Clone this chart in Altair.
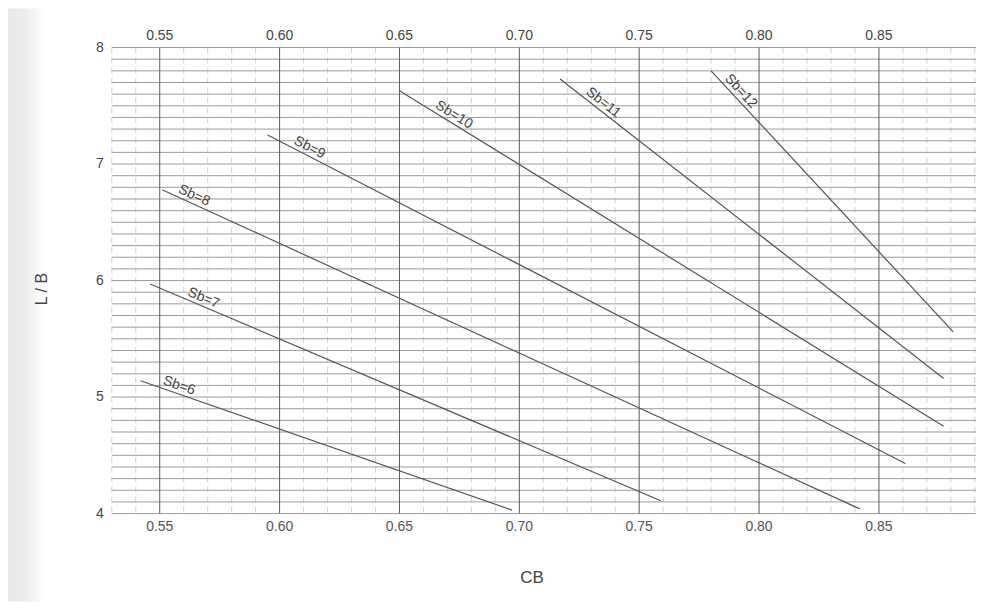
import math
import altair as alt
import pandas as pd
import numpy as np

# ---- data ----
sb = [6, 7, 8, 9, 10, 11, 12]
cb_start = [0.542, 0.546, 0.551, 0.595, 0.650, 0.717, 0.780]
lb_start = [5.14, 5.97, 6.78, 7.25, 7.63, 7.73, 7.80]
cb_end = [0.697, 0.759, 0.842, 0.861, 0.877, 0.877, 0.881]
lb_end = [4.03, 4.11, 4.04, 4.43, 4.75, 5.16, 5.56]
label_cb = [0.557, 0.567, 0.563, 0.611, 0.671, 0.733, 0.790]

x_ticks = [0.55, 0.60, 0.65, 0.70, 0.75, 0.80, 0.85]
y_ticks = [4, 5, 6, 7, 8]
x_minor = [0.53, 0.54, 0.56, 0.57, 0.58, 0.59, 0.61, 0.62, 0.63, 0.64, 0.66,
           0.67, 0.68, 0.69, 0.71, 0.72, 0.73, 0.74, 0.76, 0.77, 0.78, 0.79,
           0.81, 0.82, 0.83, 0.84, 0.86, 0.87, 0.88, 0.89]
y_grid = [round(v, 1) for v in np.arange(4.0, 8.0001, 0.1)]

x_title = "CB"
y_title = "L / B"

X_DOM = [0.530, 0.8905]
Y_DOM = [4, 8]
W, H = 866, 467

FONT = "Liberation Sans Narrow, Arial Narrow, Liberation Sans, sans-serif"
FONT2 = "Liberation Sans, Arial, sans-serif"

# ---- tables ----
lines = pd.DataFrame({"sb": sb, "cb0": cb_start, "lb0": lb_start,
                      "cb1": cb_end, "lb1": lb_end})
kx = W / (X_DOM[1] - X_DOM[0])
ky = H / (Y_DOM[1] - Y_DOM[0])
slope = (lines.lb1 - lines.lb0) / (lines.cb1 - lines.cb0)
lab = pd.DataFrame({
    "text": [f"Sb={s}" for s in sb],
    "cb": label_cb,
    "lb": [l0 + s * (c - c0) for l0, s, c, c0 in zip(lines.lb0, slope, label_cb, lines.cb0)],
    "angle": [math.degrees(math.atan(-s * ky / kx)) for s in slope],
})
xt = pd.DataFrame({"x": x_ticks})
yt = pd.DataFrame({"y": y_ticks})
one = pd.DataFrame({"a": [0]})

xs = alt.Scale(domain=X_DOM, nice=False, zero=False)
ys = alt.Scale(domain=Y_DOM, nice=False, zero=False)

shade = alt.Chart(one).mark_rect(
    color=alt.Gradient(gradient="linear", x1=0, x2=1, y1=0, y2=0,
                       stops=[alt.GradientStop(offset=0, color="#e9e9e9"),
                              alt.GradientStop(offset=0.45, color="#ececec"),
                              alt.GradientStop(offset=1, color="#ffffff")])
).encode(x=alt.value(-104), x2=alt.value(-66), y=alt.value(-39), y2=alt.value(H + 88))

minor = alt.Chart(pd.DataFrame({"x": x_minor})).mark_rule(
    color="#d2d2d2", strokeWidth=1, strokeDash=[6, 4]
).encode(x=alt.X("x:Q", scale=xs, axis=None))

hgrid = alt.Chart(pd.DataFrame({"y": y_grid})).mark_rule(
    color="#9c9c9c", strokeWidth=1
).encode(y=alt.Y("y:Q", scale=ys, axis=None))

major = alt.Chart(xt).mark_rule(color="#5a5a5a", strokeWidth=1).encode(
    x=alt.X("x:Q", scale=xs, axis=None))

curves = alt.Chart(lines).mark_rule(color="#555", strokeWidth=1.2).encode(
    x=alt.X("cb0:Q", scale=xs, axis=None), x2="cb1:Q",
    y=alt.Y("lb0:Q", scale=ys, axis=None), y2="lb1:Q")

labels = alt.Chart(lab).mark_text(
    font=FONT2, fontSize=14, color="#444", align="center", baseline="alphabetic", dy=-4
).encode(x=alt.X("cb:Q", scale=xs, axis=None), y=alt.Y("lb:Q", scale=ys, axis=None),
         text="text:N", angle=alt.Angle("angle:Q", scale=None))

top = alt.Chart(xt).mark_text(
    font=FONT, fontSize=14, color="#444", baseline="middle"
).encode(x=alt.X("x:Q", scale=xs, axis=None), y=alt.value(-12),
         text=alt.Text("x:Q", format=".2f"))

bottom = alt.Chart(xt).mark_text(
    font=FONT, fontSize=14, color="#555", baseline="middle"
).encode(x=alt.X("x:Q", scale=xs, axis=None), y=alt.value(H + 13),
         text=alt.Text("x:Q", format=".2f"))

left = alt.Chart(yt).mark_text(
    font=FONT, fontSize=14, color="#444", baseline="middle", align="right"
).encode(y=alt.Y("y:Q", scale=ys, axis=None), x=alt.value(-8),
         text=alt.Text("y:Q", format="d"))

xtitle = alt.Chart(one).mark_text(
    font=FONT2, fontSize=17, color="#444", baseline="middle", align="center", text=x_title
).encode(x=alt.value(421), y=alt.value(532))

ytitle = alt.Chart(one).mark_text(
    font=FONT2, fontSize=16, color="#444", baseline="middle", align="center",
    angle=270, text=y_title
).encode(x=alt.value(-70), y=alt.value(242))

chart = alt.layer(shade, minor, hgrid, major, curves, labels, top, bottom, left,
                  xtitle, ytitle).properties(
    width=W, height=H,
    autosize=alt.AutoSizeParams(type="none"),
    padding={"left": 104, "top": 39, "right": 0, "bottom": 88},
    background="white",
).configure_view(stroke=None)

chart.save("out.html", embed_options={"renderer": "svg", "actions": False})
